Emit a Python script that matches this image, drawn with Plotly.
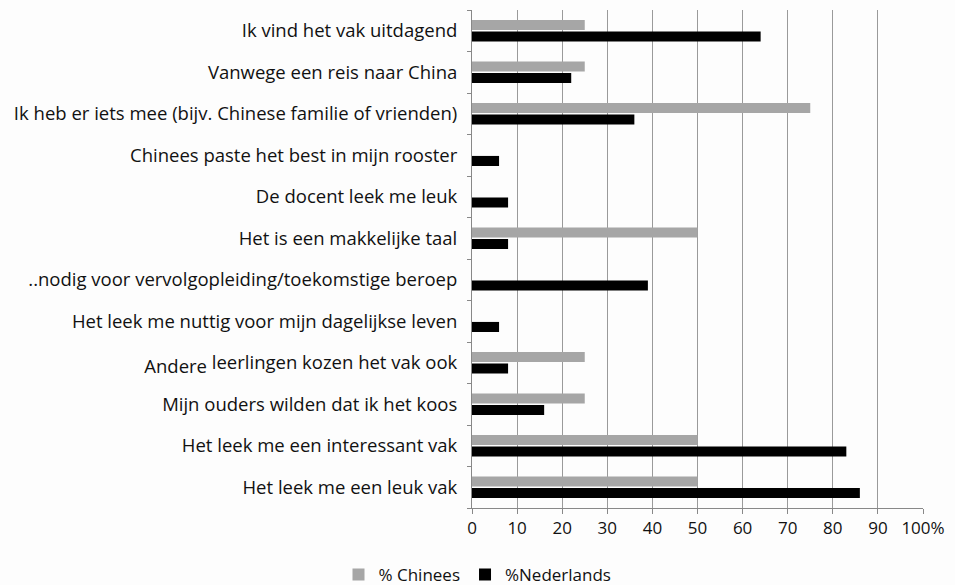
import plotly.graph_objects as go

categories = [
    "Het leek me een leuk vak",
    "Het leek me een interessant vak",
    "Mijn ouders wilden dat ik het koos",
    "Andere leerlingen kozen het vak ook",
    "Het leek me nuttig voor mijn dagelijkse leven",
    "..nodig voor vervolgopleiding/toekomstige beroep",
    "Het is een makkelijke taal",
    "De docent leek me leuk",
    "Chinees paste het best in mijn rooster",
    "Ik heb er iets mee (bijv. Chinese familie of vrienden)",
    "Vanwege een reis naar China",
    "Ik vind het vak uitdagend",
]
pct_chinees = [50, 50, 25, 25, 0, 0, 50, 0, 0, 75, 25, 25]
pct_nederlands = [86, 83, 16, 8, 6, 39, 8, 8, 6, 36, 22, 64]
x_ticks = [0, 10, 20, 30, 40, 50, 60, 70, 80, 90, 100]
x_tick_labels = ["0", "10", "20", "30", "40", "50", "60", "70", "80", "90", "100%"]

tick_text = [
    "<sub><span style='font-size:18.5px'>Andere</span></sub> leerlingen kozen het vak ook"
    if c == "Andere leerlingen kozen het vak ook" else c
    for c in categories
]

FONT = "Open Sans"

fig = go.Figure()
fig.add_trace(go.Bar(
    y=categories, x=pct_nederlands, orientation="h", name="%Nederlands",
    marker=dict(color="#000000", line=dict(width=0)),
))
fig.add_trace(go.Bar(
    y=categories, x=pct_chinees, orientation="h", name="% Chinees",
    marker=dict(color="#a6a6a6", line=dict(width=0)),
))

fig.update_layout(
    width=955, height=585,
    margin=dict(l=472, r=30, t=10, b=77),
    paper_bgcolor="#fdfdfd", plot_bgcolor="#fdfdfd",
    barmode="group", bargap=0.45, bargroupgap=0.12,
    font=dict(family=FONT, size=18.5, color="#111111"),
    showlegend=True,
    legend=dict(orientation="h", x=0.5, xanchor="center", xref="container",
                y=0.017, yanchor="middle", yref="container",
                traceorder="reversed", font=dict(size=17),
                itemwidth=30),
    xaxis=dict(range=[0, 100], tickvals=x_ticks, ticktext=x_tick_labels,
               showgrid=True, gridcolor="#9a9a9a", gridwidth=1,
               showline=True, linecolor="#888888", linewidth=1,
               ticks="outside", ticklen=5, tickcolor="#888888",
               tickfont=dict(size=17),
               zeroline=False, fixedrange=True),
    yaxis=dict(categoryorder="array", categoryarray=categories,
               tickvals=categories, ticktext=tick_text,
               showline=True, linecolor="#888888", linewidth=1,
               ticks="outside", ticklen=4, tickcolor="#888888",
               tickson="boundaries", showgrid=False, fixedrange=True,
               ticklabelstandoff=10),
)

fig.write_html("out.html")
